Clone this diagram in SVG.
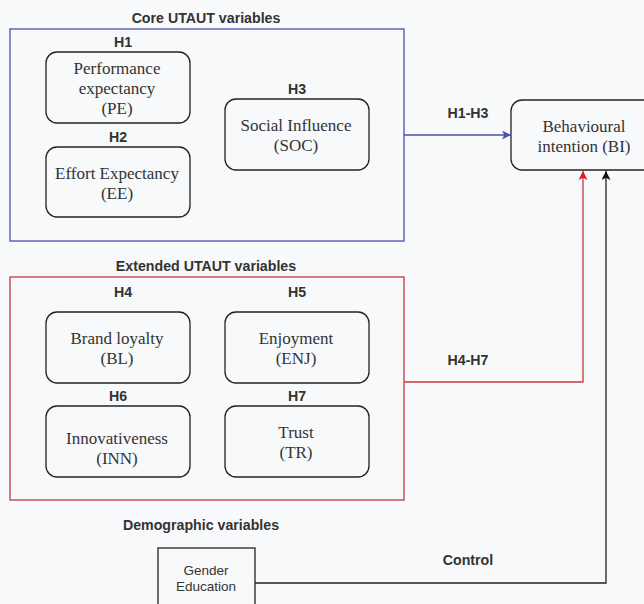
<svg xmlns="http://www.w3.org/2000/svg" width="644" height="604" viewBox="0 0 644 604">
  <defs>
    <marker id="arrBlue" viewBox="0 0 10 10" refX="10" refY="5" markerWidth="9" markerHeight="9" markerUnits="userSpaceOnUse" orient="auto">
      <path d="M0,0 L10,5 L0,10 L2.5,5 Z" fill="#4b4fb0"/>
    </marker>
    <marker id="arrRed" viewBox="0 0 10 10" refX="10" refY="5" markerWidth="10" markerHeight="9" markerUnits="userSpaceOnUse" orient="auto">
      <path d="M0,0 L10,5 L0,10 L2.5,5 Z" fill="#e8141c"/>
    </marker>
    <marker id="arrBlack" viewBox="0 0 10 10" refX="10" refY="5" markerWidth="10" markerHeight="9" markerUnits="userSpaceOnUse" orient="auto">
      <path d="M0,0 L10,5 L0,10 L2.5,5 Z" fill="#111"/>
    </marker>
  </defs>
  <style>
    .node { fill: none; stroke: #222; stroke-width: 1.3; }
    .serif { font-family: "Liberation Serif", "Times New Roman", serif; font-size: 17px; fill: #333; text-anchor: middle; }
    .lbl { font-family: "Liberation Sans", Arial, sans-serif; font-size: 14.2px; font-weight: bold; fill: #333; text-anchor: middle; }
    .sans { font-family: "Liberation Sans", Arial, sans-serif; font-size: 13.5px; fill: #333; text-anchor: middle; }
  </style>
  <rect x="0" y="0" width="644" height="604" fill="#f8f9fb"/>

  <!-- group frames -->
  <g id="core-group">
    <rect x="10" y="29" width="394" height="212" fill="none" stroke="#4b4fb0" stroke-width="1.3"/>
    <text class="lbl" x="206" y="23">Core UTAUT variables</text>
  </g>
  <g id="extended-group">
    <rect x="10" y="277" width="394" height="223" fill="none" stroke="#c43a3e" stroke-width="1.3"/>
    <text class="lbl" x="206" y="271">Extended UTAUT variables</text>
  </g>

  <!-- core constructs -->
  <g id="pe">
    <text class="lbl" x="123" y="47">H1</text>
    <rect class="node" x="46" y="52" width="144" height="71" rx="11"/>
    <text class="serif" x="117" y="74">Performance</text>
    <text class="serif" x="117" y="94">expectancy</text>
    <text class="serif" x="117" y="114">(PE)</text>
  </g>
  <g id="ee">
    <text class="lbl" x="118" y="142">H2</text>
    <rect class="node" x="46" y="147" width="144" height="70" rx="11"/>
    <text class="serif" x="117" y="179">Effort Expectancy</text>
    <text class="serif" x="117" y="199">(EE)</text>
  </g>
  <g id="soc">
    <text class="lbl" x="297" y="94">H3</text>
    <rect class="node" x="225" y="99" width="144" height="71" rx="11"/>
    <text class="serif" x="296" y="131">Social Influence</text>
    <text class="serif" x="296" y="151">(SOC)</text>
  </g>

  <!-- extended constructs -->
  <g id="bl">
    <text class="lbl" x="123" y="297">H4</text>
    <rect class="node" x="46" y="312" width="144" height="71" rx="11"/>
    <text class="serif" x="117" y="344">Brand loyalty</text>
    <text class="serif" x="117" y="364">(BL)</text>
  </g>
  <g id="enj">
    <text class="lbl" x="297" y="297">H5</text>
    <rect class="node" x="225" y="312" width="144" height="71" rx="11"/>
    <text class="serif" x="296" y="344">Enjoyment</text>
    <text class="serif" x="296" y="364">(ENJ)</text>
  </g>
  <g id="inn">
    <text class="lbl" x="118" y="401">H6</text>
    <rect class="node" x="46" y="406" width="144" height="71" rx="11"/>
    <text class="serif" x="117" y="444">Innovativeness</text>
    <text class="serif" x="117" y="464">(INN)</text>
  </g>
  <g id="tr">
    <text class="lbl" x="297" y="401">H7</text>
    <rect class="node" x="225" y="406" width="144" height="71" rx="11"/>
    <text class="serif" x="296" y="438">Trust</text>
    <text class="serif" x="296" y="458">(TR)</text>
  </g>

  <!-- outcome -->
  <g id="bi">
    <rect class="node" x="511" y="100" width="150" height="70" rx="11"/>
    <text class="serif" x="584" y="132">Behavioural</text>
    <text class="serif" x="584" y="152">intention (BI)</text>
  </g>

  <!-- demographic controls -->
  <g id="demographics">
    <text class="lbl" x="201" y="530">Demographic variables</text>
    <rect x="158" y="548" width="97" height="62" fill="none" stroke="#222" stroke-width="1.3"/>
    <text class="sans" x="206" y="575">Gender</text>
    <text class="sans" x="206" y="591">Education</text>
  </g>

  <!-- connectors -->
  <g id="connectors" fill="none" stroke-width="1.3">
    <path d="M404,135 H511" stroke="#4b4fb0" marker-end="url(#arrBlue)"/>
    <path d="M404,382 H583 V171" stroke="#c43a3e" marker-end="url(#arrRed)"/>
    <path d="M255,583 H606 V171" stroke="#222" marker-end="url(#arrBlack)"/>
    <text class="lbl" x="468" y="118" stroke="none">H1-H3</text>
    <text class="lbl" x="468" y="365" stroke="none">H4-H7</text>
    <text class="lbl" x="468" y="565" stroke="none">Control</text>
  </g>
</svg>
